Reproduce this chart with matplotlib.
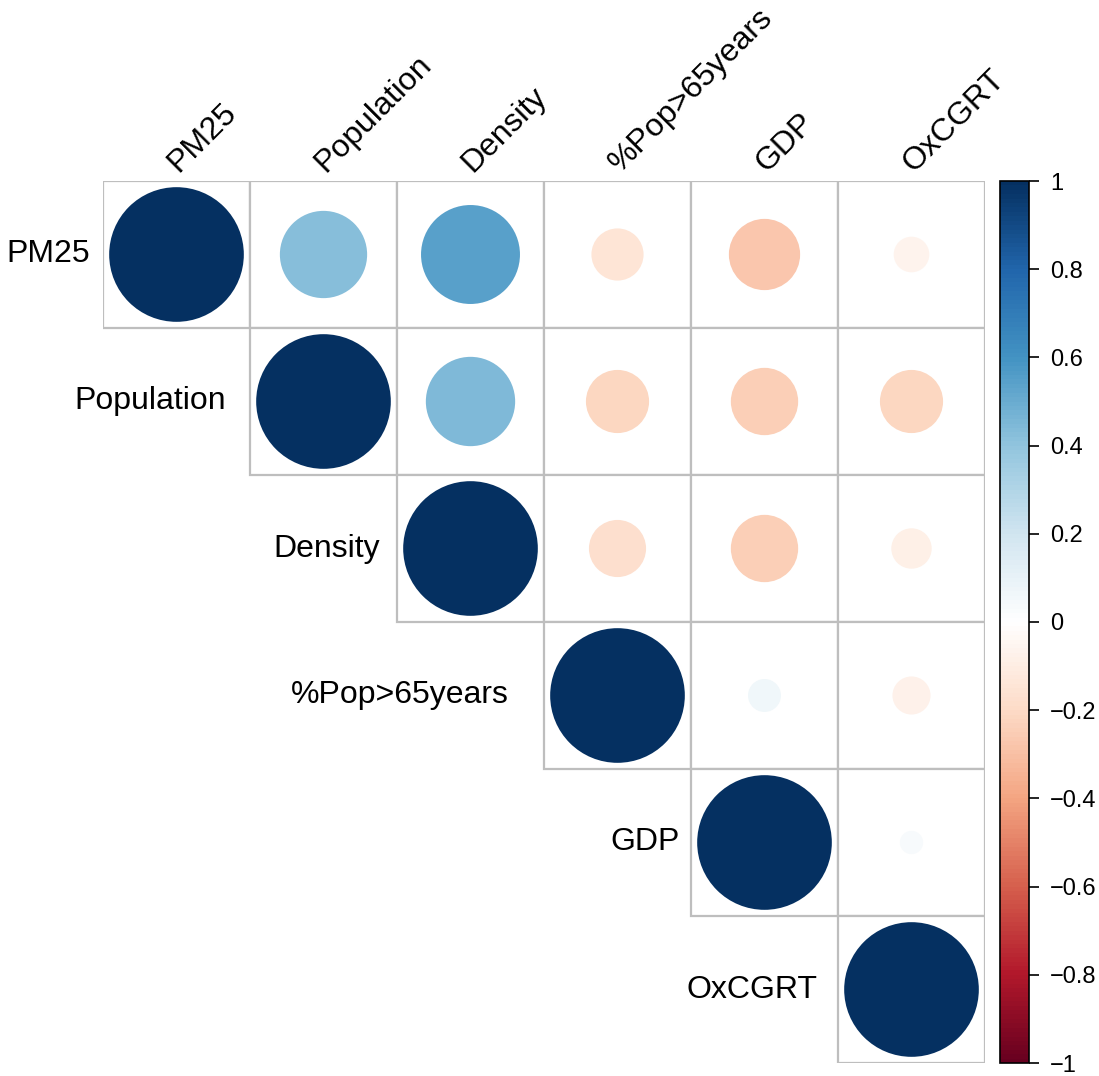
#!/usr/bin/env python3
"""Correlation matrix plot (upper triangle, circles) in the style of R corrplot."""

import numpy as np
import matplotlib
matplotlib.use("Agg")
import matplotlib.pyplot as plt
from matplotlib.colors import LinearSegmentedColormap, Normalize
from matplotlib.patches import Circle, Rectangle
from matplotlib.cm import ScalarMappable

plt.rcParams["font.family"] = ["Liberation Sans", "DejaVu Sans"]

# ---------------------------------------------------------------------------
# Data
# ---------------------------------------------------------------------------
variables = ["PM25", "Population", "Density", "%Pop>65years", "GDP", "OxCGRT"]

# upper triangle rows, starting at the diagonal
row_pm25 = [1.00, 0.42, 0.54, -0.15, -0.28, -0.07]
row_population = [1.00, 0.44, -0.22, -0.25, -0.22]
row_density = [1.00, -0.18, -0.25, -0.09]
row_pop65 = [1.00, 0.06, -0.08]
row_gdp = [1.00, 0.03]
row_oxcgrt = [1.00]

cbar_ticks = [-1, -0.8, -0.6, -0.4, -0.2, 0, 0.2, 0.4, 0.6, 0.8, 1]

# corrplot's COL2("RdBu") palette
rdbu = ["#67001F", "#B2182B", "#D6604D", "#F4A582", "#FDDBC7", "#FFFFFF",
        "#D1E5F0", "#92C5DE", "#4393C3", "#2166AC", "#053061"]

# ---------------------------------------------------------------------------
# Build matrix
# ---------------------------------------------------------------------------
rows = [row_pm25, row_population, row_density, row_pop65, row_gdp, row_oxcgrt]
n = len(variables)
corr = np.full((n, n), np.nan)
for i, r in enumerate(rows):
    corr[i, i:] = r

cmap = LinearSegmentedColormap.from_list("corr_rdbu", rdbu, N=200)
norm = Normalize(vmin=-1, vmax=1)

W, H = 1099, 1076
fig = plt.figure(figsize=(W / 100, H / 100), dpi=100)
fig.patch.set_facecolor("white")

# grid area in pixels
gx0, gy_top, cell = 103, 181, 147
ax = fig.add_axes([gx0 / W, 1 - (gy_top + n * cell) / H, n * cell / W, n * cell / H])
ax.set_xlim(0, n)
ax.set_ylim(n, 0)
ax.set_axis_off()

grid_col = "#BEBEBE"
for i in range(n):
    for j in range(i, n):
        ax.add_patch(Rectangle((j, i), 1, 1, facecolor="white",
                               edgecolor=grid_col, linewidth=1.6, zorder=1))
for i in range(n):
    for j in range(i, n):
        v = corr[i, j]
        rad = 0.458 * np.sqrt(abs(v))
        ax.add_patch(Circle((j + 0.5, i + 0.5), rad, facecolor=cmap(norm(v)),
                            edgecolor="none", zorder=2))

# column labels (rotated 45 degrees above the grid)
for j, name in enumerate(variables):
    ax.annotate(name, xy=(j + 0.5, 0), xycoords="data",
                xytext=(2, 8), textcoords="offset pixels",
                rotation=45, rotation_mode="anchor",
                ha="left", va="baseline", fontsize=23, annotation_clip=False)

# row labels, to the left of each diagonal cell
fig.canvas.draw()
renderer = fig.canvas.get_renderer()
for i, name in enumerate(variables):
    t = ax.annotate(name, xy=(i, i + 0.5), xycoords="data",
                    xytext=(0, 0), textcoords="offset pixels",
                    ha="right", va="center", fontsize=23, annotation_clip=False)
    w = t.get_window_extent(renderer).width
    t.set_position((-(0.16 * w), 0))

# colorbar
cax = fig.add_axes([1000 / W, 1 - (gy_top + n * cell) / H, 29 / W, n * cell / H])
sm = ScalarMappable(norm=norm, cmap=cmap)
cb = fig.colorbar(sm, cax=cax, ticks=cbar_ticks)
cb.outline.set_linewidth(1.2)
cb.outline.set_edgecolor("black")
cax.tick_params(axis="y", direction="out", length=7, width=1.2, labelsize=17, pad=8)
cax.set_yticklabels([("%g" % t).replace("-", "\u2212") for t in cbar_ticks])

fig.savefig("out.png", dpi=100)
plt.close(fig)
print("out.png")
